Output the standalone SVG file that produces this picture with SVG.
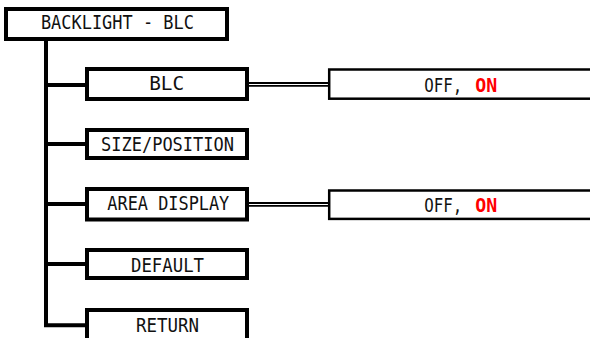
<svg xmlns="http://www.w3.org/2000/svg" width="590" height="338" viewBox="0 0 590 338">
<style>
.box{fill:#fff;stroke:#000;stroke-width:4}
.opt{fill:#fff;stroke:#000;stroke-width:2.5}
.lbl{font-family:"DejaVu Sans Mono","Liberation Mono",monospace;font-size:20px;fill:#111;text-anchor:middle}
.olbl{font-family:"DejaVu Sans Mono","Liberation Mono",monospace;font-size:20px;fill:#111}
.on{fill:#ff0000;font-weight:bold}
.trunk{fill:none;stroke:#000;stroke-width:4}
.dbl{stroke:#000;stroke-width:4.6}
.dblw{stroke:#fff;stroke-width:1}
</style>
<g id="connectors">
<path class="trunk" d="M46,39 V327.3 M44,85 H87 M44,144 H87 M44,204 H87 M44,264 H87 M44,325.3 H87"/>
<line class="dbl" x1="249" y1="84.4" x2="329" y2="84.4"/>
<line class="dblw" x1="249" y1="84.5" x2="328.5" y2="84.5"/>
<line class="dbl" x1="249" y1="204.4" x2="329" y2="204.4"/>
<line class="dblw" x1="249" y1="204.5" x2="328.5" y2="204.5"/>
</g>
<g id="backlight-blc">
<rect class="box" x="6" y="9" width="221" height="30"/>
<text class="lbl" x="117.4" y="28.5" textLength="153" lengthAdjust="spacingAndGlyphs">BACKLIGHT - BLC</text>
</g>
<g id="blc">
<rect class="box" x="87" y="69" width="160" height="30"/>
<text class="lbl" x="166.7" y="90.3" textLength="35" lengthAdjust="spacingAndGlyphs">BLC</text>
</g>
<g id="size-position">
<rect class="box" x="87" y="130" width="160" height="28"/>
<text class="lbl" x="167.5" y="151.3" textLength="133" lengthAdjust="spacingAndGlyphs">SIZE/POSITION</text>
</g>
<g id="area-display">
<rect class="box" x="87" y="189" width="160" height="30.5"/>
<text class="lbl" x="168.3" y="210.3" textLength="122" lengthAdjust="spacingAndGlyphs">AREA DISPLAY</text>
</g>
<g id="default">
<rect class="box" x="87" y="250" width="160" height="28"/>
<text class="lbl" x="167.5" y="271.8" textLength="73" lengthAdjust="spacingAndGlyphs">DEFAULT</text>
</g>
<g id="return">
<rect class="box" x="87" y="310" width="160" height="40"/>
<text class="lbl" x="167.5" y="331.8" textLength="63" lengthAdjust="spacingAndGlyphs">RETURN</text>
</g>
<g id="blc-options">
<rect class="opt" x="329.2" y="69.5" width="280" height="29.2"/>
<text class="olbl" y="91.7"><tspan x="424.3" textLength="38" lengthAdjust="spacingAndGlyphs">OFF,</tspan><tspan class="on" x="475.2" textLength="22" lengthAdjust="spacingAndGlyphs">ON</tspan></text>
</g>
<g id="area-display-options">
<rect class="opt" x="329.2" y="190.5" width="280" height="28.4"/>
<text class="olbl" y="211.7"><tspan x="424.3" textLength="38" lengthAdjust="spacingAndGlyphs">OFF,</tspan><tspan class="on" x="475.2" textLength="22" lengthAdjust="spacingAndGlyphs">ON</tspan></text>
</g>
</svg>
